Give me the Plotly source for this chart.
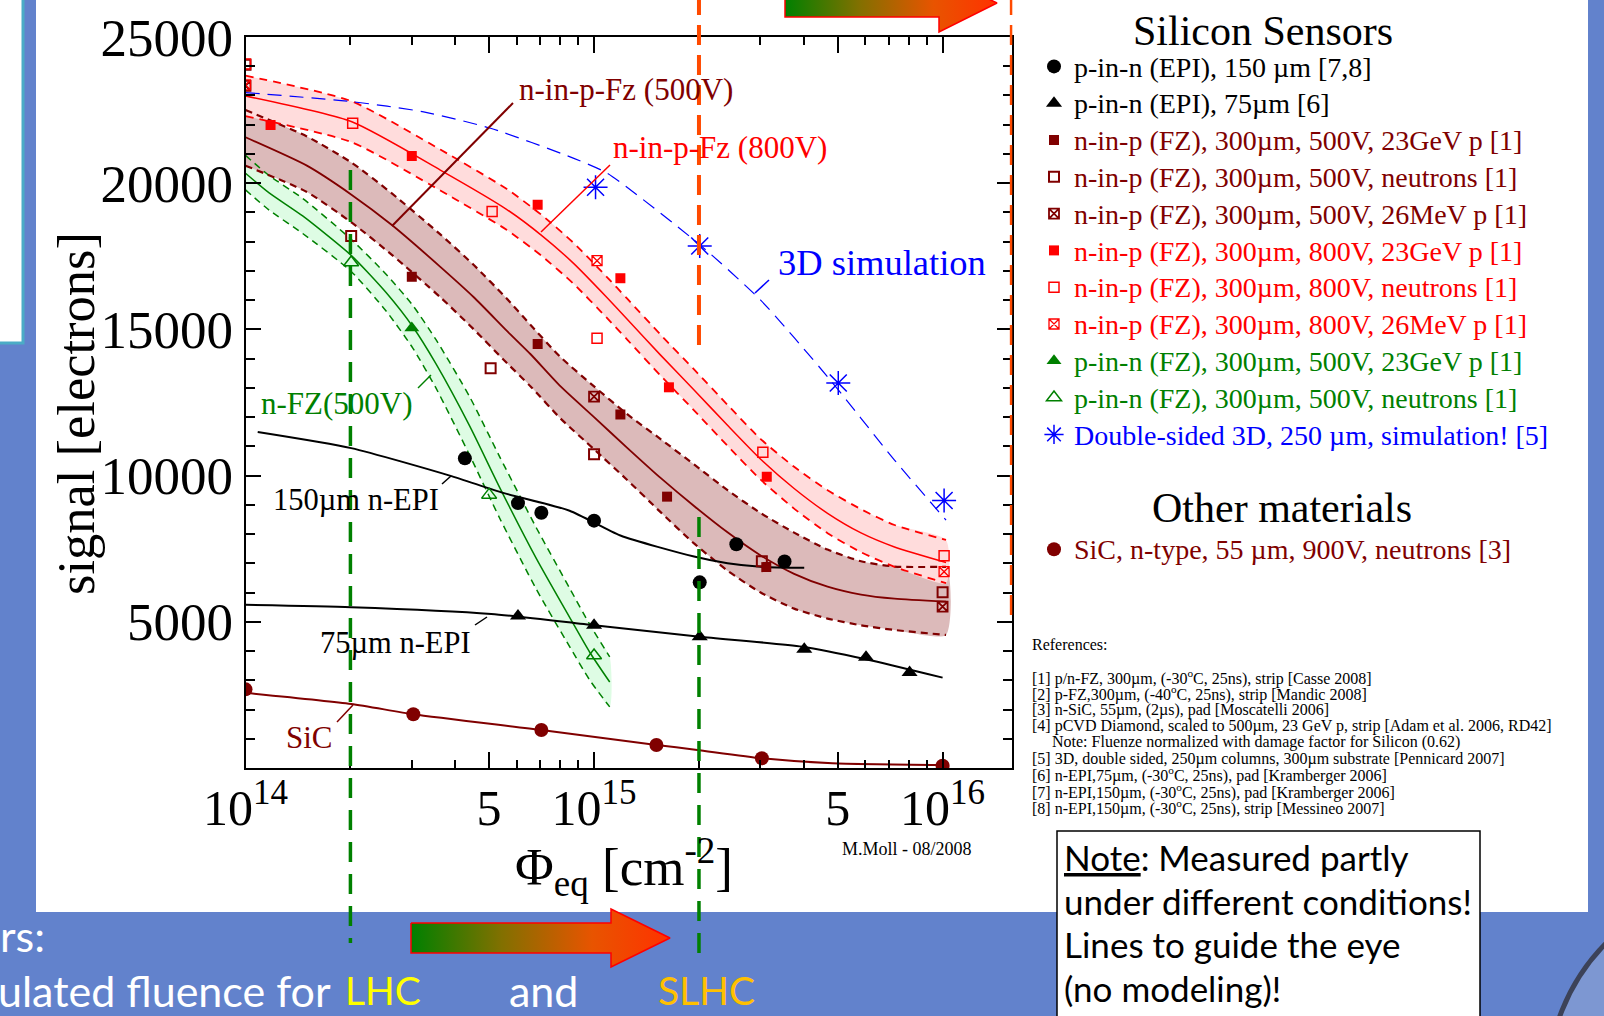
import plotly.graph_objects as go

W, H = 1604, 1016
SERIF = "Liberation Serif"
SANS = "Lato"

DARKRED = "#800000"
RED = "#ff0000"
GREEN = "#008000"
BLUE = "#0000ff"
ORANGE = "#ff4a00"
SLIDE_BLUE = "#6282cc"

# ---------------- measured points (fluence [cm^-2], signal [electrons]) ----------------
EPI150_F = [4.26e14, 6.05e14, 7.06e14, 1.0e15, 2.01e15, 2.56e15, 3.52e15]
EPI150_S = [10590, 9060, 8730, 8460, 6350, 7650, 7060]

EPI75_F = [6.05e14, 1.0e15, 2.01e15, 4.01e15, 6.03e15, 8.04e15]
EPI75_S = [5200, 4880, 4490, 4060, 3790, 3270]

NP500_23GEV_F = [3.0e14, 6.89e14, 1.19e15, 1.62e15, 3.12e15]
NP500_23GEV_S = [16800, 14500, 12090, 9280, 6870]

NP500_NEUT_F = [1.0e14, 2.01e14, 5.05e14, 1.0e15, 3.03e15, 1.0e16]
NP500_NEUT_S = [24050, 18190, 13670, 10730, 7070, 6010]

NP500_26MEV_F = [1.0e14, 1.0e15, 1.0e16]
NP500_26MEV_S = [23330, 12700, 5520]

NP800_23GEV_F = [1.18e14, 3.0e14, 6.89e14, 1.19e15, 1.64e15, 3.13e15]
NP800_23GEV_S = [21990, 20930, 19260, 16750, 13020, 9960]

NP800_NEUT_F = [1.0e14, 2.03e14, 5.1e14, 1.02e15, 3.05e15, 1.01e16]
NP800_NEUT_S = [24080, 22050, 19030, 14700, 10800, 7255]

NP800_26MEV_F = [1.0e14, 1.02e15, 1.01e16]
NP800_26MEV_S = [23360, 17350, 6713]

PN_23GEV_F = [3.0e14]
PN_23GEV_S = [15050]

PN_NEUT_F = [2.01e14, 5.0e14, 1.0e15]
PN_NEUT_S = [17290, 9340, 3850]

SIM3D_F = [1.01e15, 2.01e15, 5.02e15, 1.01e16]
SIM3D_S = [19860, 17850, 13170, 9150]

SIC_F = [1.0e14, 3.03e14, 7.06e14, 1.51e15, 3.03e15, 1.0e16]
SIC_S = [2690, 1836, 1300, 787, 331, 80]

# ---------------- guide-the-eye lines ----------------
EPI150_LINE_F = [1.084e14, 2.01e14, 3.855e14, 5.483e14, 8.511e14, 1.19e15, 1.936e15, 2.415e15, 3.006e15, 4.009e15]
EPI150_LINE_S = [11490, 10940, 10000, 9410, 8800, 7950, 7230, 7000, 6880, 6850]

EPI75_LINE_F = [1.0e14, 2.01e14, 5.07e14, 1.0e15, 2.01e15, 3.954e15, 6.026e15, 1.0e16]
EPI75_LINE_S = [5580, 5500, 5270, 4880, 4490, 4150, 3720, 3090]

SIC_LINE_F = [1.0e14, 2.01e14, 3.03e14, 7.06e14, 1.51e15, 1.977e15, 3.03e15, 4.831e15, 1.0e16]
SIC_LINE_S = [2570, 2190, 1840, 1300, 790, 616, 331, 160, 100]

SIM3D_LINE_F = [1.0e14, 2.018e14, 3.243e14, 5.047e14, 8.75e14, 1.091e15, 2.009e15, 3.006e15, 4.677e15, 7.278e15, 9.661e15, 1.023e16]
SIM3D_LINE_S = [23100, 22790, 22440, 21880, 20850, 20340, 17900, 16000, 13380, 10530, 8820, 8480]

# n-in-p 800V band
RED_BAND_F = [1.0e14, 2.018e14, 3.622e14, 5.623e14, 7.096e14, 8.75e14, 1.087e15, 1.245e15, 1.552e15,
              1.936e15, 2.415e15, 3.006e15, 3.75e15, 4.677e15, 5.834e15, 7.278e15, 1.023e16]
RED_BAND_MID = [22980, 22100, 20450, 19100, 18200, 17250, 16100, 15350, 14120,
                12930, 11720, 10560, 9560, 8710, 8040, 7560, 7030]
RED_BAND_UP = [23680, 22800, 21150, 19800, 18900, 17950, 16800, 16050, 14820,
               13630, 12420, 11250, 10300, 9500, 8850, 8310, 7800]
RED_BAND_LO = [22290, 21400, 19750, 18400, 17500, 16550, 15400, 14650, 13420,
               12230, 11020, 9860, 8870, 8030, 7380, 6880, 6320]

# n-in-p 500V band
DR_BAND_F = [1.0e14, 1.5e14, 2.018e14, 2.63e14, 3.622e14, 4.519e14, 5.623e14, 6.577e14, 8.017e14, 1.0e15,
             1.245e15, 1.552e15, 1.936e15, 2.415e15, 3.006e15, 3.75e15, 4.677e15, 5.834e15, 7.278e15, 1.023e16]
DR_BAND_MID = [21570, 20600, 19600, 18570, 17140, 16100, 14950, 14150, 13050, 12000,
               10950, 9920, 8960, 8060, 7270, 6640, 6200, 5930, 5790, 5690]
DR_BAND_UP = [22500, 21600, 20700, 19650, 18250, 17200, 16050, 15150, 14050, 13050,
              12100, 11250, 10380, 9500, 8720, 8050, 7470, 7070, 6890, 6880]
DR_BAND_LO = [20600, 19700, 18650, 17550, 16100, 15000, 13850, 13050, 11950, 10900,
              9850, 8750, 7680, 6750, 6000, 5450, 5110, 4880, 4720, 4550]

# p-in-n 500V band
GR_BAND_F = [1.0e14, 1.169e14, 1.459e14, 2.01e14, 2.535e14, 3.02e14, 3.524e14, 4.395e14, 5.358e14,
             6.839e14, 8.511e14, 9.727e14, 1.109e15]
GR_BAND_MID = [20340, 19670, 18880, 17530, 16250, 15090, 13810, 11700, 9600, 7150, 5150, 3950, 2940]
GR_BAND_UP = [20950, 20260, 19480, 18080, 16880, 15820, 14640, 12700, 10650, 8200, 6150, 4900, 3800]
GR_BAND_LO = [19770, 19080, 18280, 16980, 15620, 14360, 12980, 10700, 8550, 6100, 4150, 3000, 2090]

# reference fluences
LHC_FLUENCE = 2e14
SLHC_FLUENCE = 2e15
EDGE_FLUENCE = 1.58e16

# axes ticks
Y_TICKS = [5000, 10000, 15000, 20000, 25000]
X_TICKS = [1e14, 5e14, 1e15, 5e15, 1e16]
X_TICKTEXT = ["10<sup>14</sup>", "5", "10<sup>15</sup>", "5", "10<sup>16</sup>"]
X_MINOR = [2e14, 3e14, 4e14, 6e14, 7e14, 8e14, 9e14, 2e15, 3e15, 4e15, 6e15, 7e15, 8e15, 9e15]

REFERENCES = [
    "[1] p/n-FZ, 300µm, (-30<sup>o</sup>C, 25ns), strip [Casse 2008]",
    "[2] p-FZ,300µm, (-40<sup>o</sup>C, 25ns), strip [Mandic 2008]",
    "[3] n-SiC, 55µm, (2µs), pad [Moscatelli 2006]",
    "[4] pCVD Diamond, scaled to 500µm, 23 GeV p, strip [Adam et al. 2006, RD42]",
    "     Note: Fluenze normalized with damage factor for Silicon (0.62)",
    "[5] 3D, double sided, 250µm columns, 300µm substrate [Pennicard 2007]",
    "[6] n-EPI,75µm, (-30<sup>o</sup>C, 25ns), pad [Kramberger 2006]",
    "[7] n-EPI,150µm, (-30<sup>o</sup>C, 25ns), pad [Kramberger 2006]",
    "[8] n-EPI,150µm, (-30<sup>o</sup>C, 25ns), strip [Messineo 2007]",
]
NOTE_LINES = ["<u>Note</u>: Measured partly", "under different conditions!",
              "Lines to guide the eye", "(no modeling)!"]


def px(x):
    return x / W


def py(y):
    return 1 - y / H


fig = go.Figure()


def band(F, up, lo, fill):
    fig.add_trace(go.Scatter(x=F + F[::-1], y=up + lo[::-1], fill="toself", fillcolor=fill,
                             line=dict(width=0, shape="spline", smoothing=0.6), mode="lines",
                             showlegend=False, hoverinfo="skip"))


def line(F, S, color, width=2, dash="solid", shape="spline"):
    fig.add_trace(go.Scatter(x=F, y=S, mode="lines", line=dict(color=color, width=width, dash=dash,
                                                                 shape=shape, smoothing=0.6),
                             showlegend=False, hoverinfo="skip"))


# bands (fills)
band(GR_BAND_F, GR_BAND_UP, GR_BAND_LO, "rgb(222,252,228)")
band(DR_BAND_F, DR_BAND_UP, DR_BAND_LO, "rgb(220,186,186)")
band(RED_BAND_F, RED_BAND_UP, RED_BAND_LO, "rgb(255,220,220)")

# band edges and centres
line(GR_BAND_F, GR_BAND_UP, GREEN, 1.5, "7px,5px")
line(GR_BAND_F, GR_BAND_LO, GREEN, 1.5, "7px,5px")
line(GR_BAND_F, GR_BAND_MID, GREEN, 1.5)
line(DR_BAND_F, DR_BAND_UP, DARKRED, 2.2, "7px,5px")
line(DR_BAND_F, DR_BAND_LO, DARKRED, 2.2, "7px,5px")
line(DR_BAND_F, DR_BAND_MID, DARKRED, 1.8)
line(RED_BAND_F, RED_BAND_UP, RED, 1.8, "8px,6px")
line(RED_BAND_F, RED_BAND_LO, RED, 1.8, "8px,6px")
line(RED_BAND_F, RED_BAND_MID, RED, 1.5)

line(SIM3D_LINE_F, SIM3D_LINE_S, BLUE, 1.2, "14px,8px")
line(EPI150_LINE_F, EPI150_LINE_S, "black", 2)
line(EPI75_LINE_F, EPI75_LINE_S, "black", 2)
line(SIC_LINE_F, SIC_LINE_S, DARKRED, 2)


def pts(F, S, name, color, symbol, size, group, lw=0):
    fig.add_trace(go.Scatter(
        x=F, y=S, mode="markers",
        name=f'<span style="color:{color};font-size:28px">{name}</span>',
        legendgroup=group,
        marker=dict(symbol=symbol, size=size, color=color, line=dict(color=color, width=lw)),
        hoverinfo="x+y"))


pts(EPI150_F, EPI150_S, "p-in-n (EPI), 150 µm [7,8]", "black", "circle", 14, "si")
pts(EPI75_F, EPI75_S, "p-in-n (EPI), 75µm [6]", "black", "triangle-up", 14, "si")
pts(NP500_23GEV_F, NP500_23GEV_S, "n-in-p (FZ), 300µm, 500V, 23GeV p [1]", DARKRED, "square", 10, "si")
pts(NP500_NEUT_F, NP500_NEUT_S, "n-in-p (FZ), 300µm, 500V, neutrons [1]", DARKRED, "square-open", 10, "si", 2)
pts(NP500_26MEV_F, NP500_26MEV_S, "n-in-p (FZ), 300µm, 500V, 26MeV p [1]", DARKRED, "square-x-open", 10, "si", 1.8)
pts(NP800_23GEV_F, NP800_23GEV_S, "n-in-p (FZ), 300µm, 800V, 23GeV p [1]", RED, "square", 10, "si")
pts(NP800_NEUT_F, NP800_NEUT_S, "n-in-p (FZ), 300µm, 800V, neutrons [1]", RED, "square-open", 10, "si", 1.5)
pts(NP800_26MEV_F, NP800_26MEV_S, "n-in-p (FZ), 300µm, 800V, 26MeV p [1]", RED, "square-x-open", 10, "si", 1.3)
pts(PN_23GEV_F, PN_23GEV_S, "p-in-n (FZ), 300µm, 500V, 23GeV p [1]", GREEN, "triangle-up", 13, "si")
pts(PN_NEUT_F, PN_NEUT_S, "p-in-n (FZ), 300µm, 500V, neutrons [1]", GREEN, "triangle-up-open", 13, "si", 1.5)
pts(SIM3D_F, SIM3D_S, "Double-sided 3D, 250 µm, simulation! [5]", BLUE, "asterisk-open", 20, "si", 1.5)
pts(SIC_F, SIC_S, "SiC, n-type, 55 µm, 900V, neutrons [3]", DARKRED, "circle", 14, "other")

# ---------------- gradient arrows (page pixel overlay axes) ----------------
ARROW_SCALE = [[0, "rgb(0,128,0)"], [0.35, "rgb(130,112,0)"], [0.7, "rgb(232,84,0)"], [1, "rgb(255,50,0)"]]
for ax_, ay_ in [([785, 939, 939, 997, 939, 939, 785, 785], [-11, -11, -25, 3, 32, 17, 17, -11]),
                 ([411, 611, 611, 670, 611, 611, 411, 411], [923, 923, 909, 938, 967, 953, 953, 923])]:
    fig.add_trace(go.Scatter(x=ax_, y=ay_, xaxis="x2", yaxis="y2", mode="lines", fill="toself",
                             fillgradient=dict(type="horizontal", colorscale=ARROW_SCALE),
                             line=dict(color="red", width=1.5), showlegend=False, hoverinfo="skip"))

# ---------------- shapes ----------------
shapes = [
    # white slide panel
    dict(type="rect", xref="paper", yref="paper", x0=px(36), x1=px(1588), y0=py(912), y1=py(-10),
         fillcolor="white", line=dict(width=0), layer="below"),
    # top-left text box
    dict(type="rect", xref="paper", yref="paper", x0=px(-10), x1=px(23), y0=py(343), y1=py(-10),
         fillcolor="white", line=dict(color="#4bacc6", width=3), layer="below"),
    # bottom-right decoration
    dict(type="circle", xref="paper", yref="paper", x0=px(1548), x1=px(1948), y0=py(1284), y1=py(884),
         fillcolor="#7d97d2", line=dict(color="#3c4258", width=5), layer="below"),
    # note box
    dict(type="rect", xref="paper", yref="paper", x0=px(1057), x1=px(1480), y0=py(1040), y1=py(831),
         fillcolor="white", line=dict(color="black", width=1.5), layer="below"),
    # fluence markers
    dict(type="line", xref="x", yref="paper", x0=SLHC_FLUENCE, x1=SLHC_FLUENCE, y0=py(-5), y1=py(355),
         line=dict(color=ORANGE, width=4, dash="20px,10px"), layer="above"),
    dict(type="line", xref="x", yref="paper", x0=EDGE_FLUENCE, x1=EDGE_FLUENCE, y0=py(-5), y1=py(620),
         line=dict(color=ORANGE, width=4, dash="20px,10px"), layer="above"),
    dict(type="line", xref="x", yref="paper", x0=LHC_FLUENCE, x1=LHC_FLUENCE, y0=py(170), y1=py(943),
         line=dict(color=GREEN, width=3.5, dash="20px,12px"), layer="above"),
    dict(type="line", xref="x", yref="paper", x0=SLHC_FLUENCE, x1=SLHC_FLUENCE, y0=py(517), y1=py(965),
         line=dict(color=GREEN, width=3.5, dash="20px,12px"), layer="above"),
]

# label leader lines (page pixels)
LEADERS = [((392, 226), (513, 103), DARKRED, 2), ((541, 232), (610, 165), RED, 1.5),
           ((755, 293), (769, 280), BLUE, 1.5), ((418, 388), (431, 375), GREEN, 1.5),
           ((442, 484), (451, 476), "black", 1.5), ((475, 625), (487, 617), "black", 1.5),
           ((337, 722), (353, 705), DARKRED, 1.5)]
for (x0, y0), (x1, y1), c, w in LEADERS:
    shapes.append(dict(type="line", xref="paper", yref="paper", x0=px(x0), y0=py(y0), x1=px(x1), y1=py(y1),
                       line=dict(color=c, width=w)))

# ---------------- annotations ----------------
anns = []


def ann(text, x, y, size, color="black", family=SERIF, xanchor="left", yanchor="middle", angle=0):
    anns.append(dict(text=text, x=px(x), y=py(y), xref="paper", yref="paper", showarrow=False,
                     font=dict(family=family, size=size, color=color), xanchor=xanchor, yanchor=yanchor,
                     textangle=angle))


ann("n-in-p-Fz (500V)", 517, 90, 31, DARKRED)
ann("n-in-p-Fz (800V)", 611, 148, 31, RED)
ann("3D simulation", 776, 262, 36.5, BLUE)
ann("n-FZ(500V)", 259, 404, 31, GREEN)
ann("150µm n-EPI", 271, 500, 30.5)
ann("75µm n-EPI", 318, 643, 30.5)
ann("SiC", 284, 737, 31, DARKRED)
ann("M.Moll - 08/2008", 907, 849, 18, xanchor="center")
ann("signal [electrons]", 76, 414, 52.5, xanchor="center", angle=-90)
ann("Φ<sub>eq</sub> [cm<sup>-2</sup>]", 624, 867, 53, xanchor="center")

ann("Silicon Sensors", 1263, 31, 42, xanchor="center")
ann("Other materials", 1282, 508, 42, xanchor="center")

ann("References:", 1030, 644, 16)
for i, t in enumerate(REFERENCES):
    ann(t, 1030, 677 + 16.3 * i, 16)

for i, t in enumerate(NOTE_LINES):
    ann(t, 1062, 857 + 43.5 * i, 35, family=SANS)

ann("rs:", -2, 935, 43, "white", SANS)
ann("ulated fluence for", -4, 990, 43, "white", SANS)
ann("LHC", 343, 990, 39, "#ffff00", SANS)
ann("and", 507, 990, 43, "white", SANS)
ann("SLHC", 656, 990, 39, "#ffc000", SANS)

fig.update_layout(
    width=W, height=H, autosize=False,
    margin=dict(l=0, r=0, t=0, b=0, pad=0, autoexpand=False),
    paper_bgcolor=SLIDE_BLUE,
    plot_bgcolor="rgba(0,0,0,0)",
    shapes=shapes,
    annotations=anns,
    showlegend=True,
    legend=dict(x=px(1034), y=py(43), xanchor="left", yanchor="top",
                font=dict(family=SERIF, size=26, color="black"),
                bgcolor="rgba(0,0,0,0)", borderwidth=0, tracegroupgap=78,
                itemsizing="trace", traceorder="grouped"),
    xaxis=dict(type="log", range=[14, 16.2], domain=[px(245.5), px(1012.3)],
               tickvals=X_TICKS, ticktext=X_TICKTEXT, ticks="inside", ticklen=16, tickwidth=2,
               tickcolor="black", showline=True, linewidth=2, linecolor="black", mirror="ticks",
               showgrid=False, zeroline=False, automargin=False, ticklabelstandoff=-5,
               tickfont=dict(family=SERIF, size=50, color="black"),
               minor=dict(tickvals=X_MINOR, ticks="inside", ticklen=8, tickwidth=1.5, tickcolor="black",
                          showgrid=False)),
    yaxis=dict(range=[0, 25000], domain=[py(768), py(37)],
               tickvals=Y_TICKS, ticktext=[str(v) for v in Y_TICKS], ticks="inside", ticklen=15, tickwidth=2,
               tickcolor="black", showline=True, linewidth=2, linecolor="black", mirror="ticks",
               showgrid=False, zeroline=False, automargin=False,
               tickfont=dict(family=SERIF, size=53, color="black"),
               minor=dict(dtick=1000, ticks="inside", ticklen=9, tickwidth=1.5, tickcolor="black",
                          showgrid=False)),
    xaxis2=dict(domain=[0, 1], range=[0, W], visible=False, anchor="y2", fixedrange=True),
    yaxis2=dict(domain=[0, 1], range=[H, 0], visible=False, anchor="x2", fixedrange=True),
)

fig.write_html("out.html")
